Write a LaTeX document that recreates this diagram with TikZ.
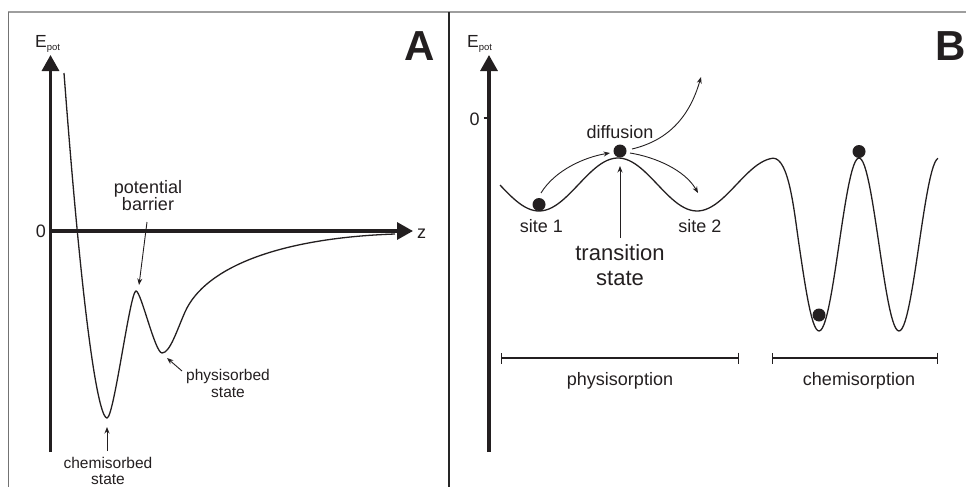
\documentclass[tikz,border=0pt]{standalone}
\usepackage{fontspec}
\setmainfont{Liberation Sans}
\usetikzlibrary{arrows.meta}
\definecolor{ink}{HTML}{231F20}
\tikzset{
  curve/.style={line width=1.3pt, draw=ink},
  axisline/.style={line width=3.2pt, draw=ink, -{Triangle[length=16pt,width=17pt]}},
  thinarrow/.style={line width=0.9pt, draw=ink, -{Stealth[length=6.5pt,width=5pt]}},
  rangebar/.style={line width=1.2pt, draw=ink, {Bar[width=11pt,line width=1.2pt]}-{Bar[width=11pt,line width=1.2pt]}},
  lbl/.style={font=\fontsize{18}{18}\selectfont, text=ink, inner sep=0pt, anchor=base},
  smalllbl/.style={font=\fontsize{15.5}{16}\selectfont, text=ink, inner sep=0pt, anchor=base},
  biglbl/.style={font=\fontsize{22}{22}\selectfont, text=ink, inner sep=0pt, anchor=base},
  panellbl/.style={font=\fontsize{42}{42}\selectfont\bfseries, text=ink, inner sep=0pt, anchor=base},
  ball/.style={circle, fill=ink, inner sep=0pt, minimum size=13pt},
}
\newcommand{\Epot}{{\fontsize{17.5}{17.5}\selectfont E}\raisebox{-3pt}{\fontsize{9.5}{9.5}\selectfont pot}}
\begin{document}
\begin{tikzpicture}[x=1pt,y=-1pt]
\useasboundingbox (0,0) rectangle (966,487);
\clip (0,0) rectangle (966,487);
% frame
\draw[line width=1.3pt, black!38] (8,12) -- (966,12);
\draw[line width=1pt, black!55] (8,12) -- (8,487);
\draw[line width=1.4pt, black!85] (449,12) -- (449,487);

% ---------------- Panel A ----------------
\coordinate (AyB) at (50.5,452);
\coordinate (AyT) at (50.5,55);
\coordinate (AxL) at (49,231);
\coordinate (AxT) at (413,231);
\draw[axisline] (AyB) -- (AyT);
\draw[axisline] (AxL) -- (AxT);
\node[lbl] (Azero) at (41,237.5) {0};
\node[lbl, anchor=base west] (Az) at (417,238) {z};
\node[anchor=base west, inner sep=0pt, text=ink] (AE) at (35,47.5) {\Epot};
\node[panellbl] (Alabel) at (420,60) {A};

\draw[curve] (64,73) .. controls (85,352) and (100,418) .. (107,418)
  .. controls (114,418) and (130,291) .. (136,291)
  .. controls (141,291) and (155,353) .. (162,353)
  .. controls (170,353) and (177,330) .. (185,312)
  .. controls (205,267) and (280,238) .. (395,234);

\node[lbl] (pb1) at (148,193) {potential};
\node[lbl] (pb2) at (148,210) {barrier};
\coordinate (pbS) at (147,222);
\coordinate (pbT) at (139,285);
\draw[thinarrow] (pbS) -- (pbT);

\node[smalllbl] (ps1) at (228,380) {physisorbed};
\node[smalllbl] (ps2) at (228,397) {state};
\coordinate (psS) at (182,371);
\coordinate (psT) at (167,358);
\draw[thinarrow] (psS) -- (psT);

\node[smalllbl] (cs1) at (108,468) {chemisorbed};
\node[smalllbl] (cs2) at (108,484.5) {state};
\coordinate (csS) at (107,451);
\coordinate (csT) at (107,427);
\draw[thinarrow] (csS) -- (csT);

% ---------------- Panel B ----------------
\coordinate (ByB) at (489,452);
\coordinate (ByT) at (489,55);
\draw[axisline] (ByB) -- (ByT);
\coordinate (tickL) at (483.5,118);
\coordinate (tickR) at (489,118);
\draw[line width=1.5pt, draw=ink] (tickL) -- (tickR);
\node[lbl] (Bzero) at (474.5,125) {0};
\node[anchor=base west, inner sep=0pt, text=ink] (BE) at (467,47.5) {\Epot};
\node[panellbl, anchor=base west] (Blabel) at (935,60) {B};

\draw[curve] plot[domain=500:773, samples=90] (\x,{184.5+26.5*cos((\x-539)/158*360)})
  .. controls (789,158) and (794,210.5) .. (799,244.5)
  -- plot[domain=799:938, samples=90] (\x,{244.5+86.5*cos((\x-819)/80*360)});

\node[ball] (b1) at (539,204.5) {};
\node[ball] (b2) at (620,151) {};
\node[ball] (b3) at (859,151.5) {};
\node[ball] (b4) at (819,315) {};

\coordinate (a1S) at (541,193);
\coordinate (a1T) at (610,153);
\draw[thinarrow] (a1S) .. controls (555,170) and (585,157) .. (a1T);
\coordinate (a2S) at (630,153);
\coordinate (a2T) at (698,193);
\draw[thinarrow] (a2S) .. controls (655,157) and (685,170) .. (a2T);
\coordinate (a3S) at (632,149);
\coordinate (a3T) at (701,77);
\draw[thinarrow] (a3S) .. controls (670,140) and (690,115) .. (a3T);
\coordinate (tsS) at (620,238);
\coordinate (tsT) at (620,166);
\draw[thinarrow] (tsS) -- (tsT);

\node[lbl] (diff) at (620,138) {diffusion};
\node[lbl] (s1) at (541.5,232) {site 1};
\node[lbl] (s2) at (700,232) {site 2};
\node[biglbl] (ts1) at (620,260) {transition};
\node[biglbl] (ts2) at (620,285) {state};

\coordinate (phL) at (501,358);
\coordinate (phR) at (739,358);
\draw[rangebar] (phL) -- (phR);
\coordinate (chL) at (772,358);
\coordinate (chR) at (938,358);
\draw[rangebar] (chL) -- (chR);
\node[lbl] (phys) at (620,385) {physisorption};
\node[lbl] (chem) at (859,385) {chemisorption};
\end{tikzpicture}
\end{document}
